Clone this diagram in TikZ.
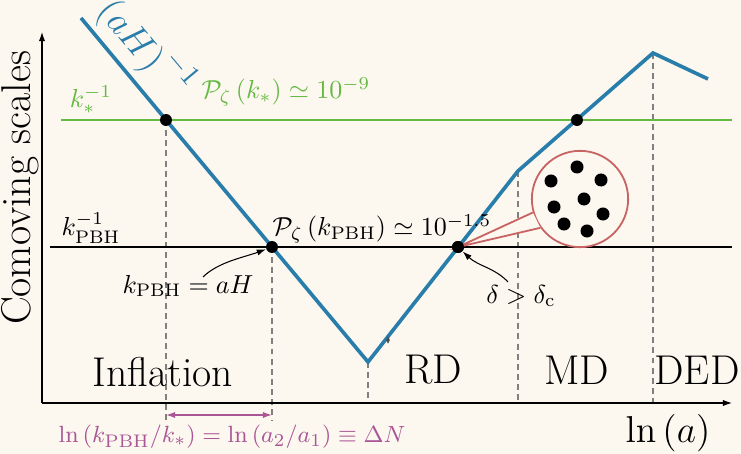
\documentclass[tikz,border=0pt]{standalone}
\usepackage{amsmath,amssymb}
\usepackage{tikz}
\usetikzlibrary{arrows.meta,positioning,calc}
\definecolor{bgcol}{RGB}{252,248,240}
\definecolor{hubble}{RGB}{40,125,170}
\definecolor{pivot}{RGB}{100,185,65}
\definecolor{efold}{RGB}{170,85,150}
\definecolor{halored}{RGB}{200,100,100}

\begin{document}
\begin{tikzpicture}[
  x=0.0135cm, y=-0.0135cm,
  >={Latex[length=3.5pt,width=2.4pt]},
  every node/.style={font=\normalsize},
  axis/.style={->, line width=0.4pt},
  scaleline/.style={line width=0.6pt},
  guide/.style={gray, line width=0.45pt, dash pattern=on 2.3pt off 1.6pt},
  horizon/.style={hubble, line width=1.4pt},
  dot/.style={circle, fill=black, inner sep=0pt, minimum size=4.6pt},
  grain/.style={circle, fill=black, inner sep=0pt, minimum size=5pt},
  era/.style={font=\fontsize{16}{19}\selectfont},
  halo/.style={circle, draw=halored, line width=0.7pt, inner sep=0pt, minimum size=1.3cm}
]
\useasboundingbox[fill=bgcol] (0,0) rectangle (741,454);

\coordinate (origin) at (42,403);
\coordinate (ytop) at (42,32);
\coordinate (xend) at (732,403);
\coordinate (kstarL) at (61,120);
\coordinate (kstarR) at (732,120);
\coordinate (kpbhL) at (50,247);
\coordinate (kpbhR) at (732,247);
\coordinate (hstart) at (81,18);
\coordinate (hmin) at (368,362);
\coordinate (heq) at (518,171);
\coordinate (hpeak) at (653,53);
\coordinate (hend) at (708,79);
\coordinate (dnL) at (166,415);
\coordinate (dnR) at (272,415);

\draw[guide] (166,120) -- (166,421);
\draw[guide] (272,247) -- (272,421);
\draw[guide] (hmin) -- (hmin |- origin);
\draw[guide] (heq) -- (heq |- origin);
\draw[guide] (hpeak) -- (hpeak |- origin);

\draw[axis] (origin) -- (ytop);
\draw[axis] (origin) -- (xend);
\draw[scaleline, pivot] (kstarL) -- (kstarR);
\draw[scaleline] (kpbhL) -- (kpbhR);
\draw[horizon] (hstart) -- (hmin) -- (heq) -- (hpeak) -- (hend);

\node[dot] (cross1) at (166,120) {};
\node[dot] (cross2) at (272,247) {};
\node[dot] (reentry) at (458,247) {};
\node[dot] (cross3) at (577,120) {};

\node[halo] (cloud) at (580,199) {};
\fill[bgcol] (cloud.196) -- (reentry.center) -- (cloud.216) -- cycle;
\draw[halored, line width=0.7pt] (cloud.196) -- (reentry.center) -- (cloud.216);
\node[dot] at (reentry) {};
\foreach \gx/\gy in {577/167, 551/181, 601/180, 584/199, 554/207, 603/214, 564/224, 587/231}
  \node[grain] at (\gx,\gy) {};

\coordinate (tickA) at (388,344);
\coordinate (tickB) at (388,336);
\draw[<->, line width=0.3pt, gray!60!black, >={Latex[length=1.5pt,width=1.5pt]}] (tickA) -- (tickB);

\node[text=hubble, rotate=-50, font=\fontsize{15}{18}\selectfont] (hubblelab) at (146,47) {$\left(aH\right)^{\raisebox{1.5pt}{$\scriptstyle -1$}}$};
\node[text=pivot] (kstarlab) at (91,100) {$k_*^{-1}$};
\node[text=pivot] (pstarlab) at (286,92) {$\mathcal{P}_\zeta\left(k_*\right)\simeq10^{-9}$};
\node (kpbhlab) at (91,228) {$k_{\mathrm{PBH}}^{-1}$};
\node (ppbhlab) at (382,229) {$\mathcal{P}_\zeta\left(k_{\mathrm{PBH}}\right)\simeq10^{-1.5}$};
\node (exitlab) at (188,286) {$k_{\mathrm{PBH}}=aH$};
\node (collapselab) at (521,296) {$\delta>\delta_{\mathrm{c}}$};

\coordinate (exitfoot) at (203,277);
\coordinate (collapsefoot) at (508,282);
\draw[->, line width=0.4pt] (exitfoot) .. controls (218,262) and (245,257) .. (cross2);
\draw[->, line width=0.4pt] (collapsefoot) .. controls (495,268) and (478,266) .. (reentry);

\node[era] (inflab) at (163,372) {Inflation};
\node[era] (rdlab) at (433,370) {RD};
\node[era] (mdlab) at (577,370) {MD};
\node[era] (dedlab) at (697,370) {DED};
\node[era, rotate=90] (ylab) at (20,188) {Comoving scales};
\node[era, font=\fontsize{15}{18}\selectfont] (xlab) at (668,433) {$\ln\left(a\right)$};

\draw[<->, efold, line width=0.5pt] (dnL) -- (dnR);
\node[text=efold, font=\fontsize{9.5}{11}\selectfont] (dNlab) at (232,437) {$\ln\left(k_{\mathrm{PBH}}/k_*\right)=\ln\left(a_2/a_1\right)\equiv\Delta N$};
\end{tikzpicture}
\end{document}
